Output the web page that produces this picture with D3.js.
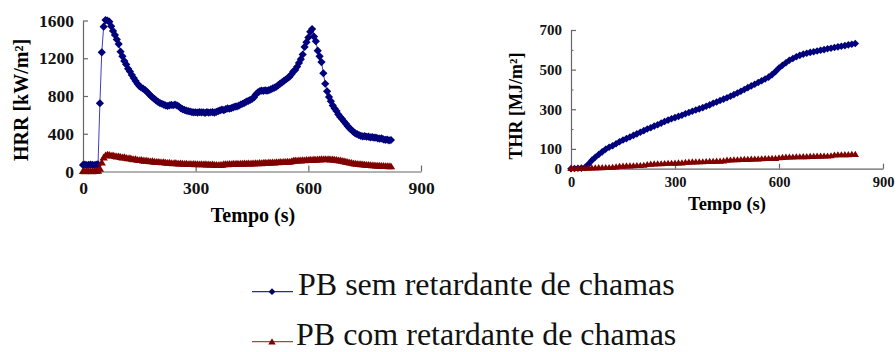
<!DOCTYPE html>
<html>
<head>
<meta charset="utf-8">
<script src="https://cdn.jsdelivr.net/npm/d3@7"></script>
<style>
  body { margin: 0; background: #fff; }
  svg { display: block; }
  text { font-family: "Liberation Serif", "Times New Roman", serif; }
</style>
</head>
<body>
<script>
// Cone calorimeter results: heat release rate (HRR) and total heat release (THR)
const seriesNames = ["PB sem retardante de chamas", "PB com retardante de chamas"];

// HRR [kW/m²], sampled every 5 s from 0 to 820 s
const hrrStep = 5;
const hrrSemRetardante = [
  70, 72, 68, 70, 72, 70, 68, 72, 75, 723,
  1263, 1535, 1605, 1600, 1588, 1540, 1490, 1447, 1400, 1350,
  1270, 1220, 1170, 1135, 1090, 1060, 1023, 990, 960, 930,
  905, 890, 878, 864, 846, 825, 803, 785, 770, 752,
  738, 725, 718, 708, 700, 694, 700, 705, 702, 708,
  700, 690, 672, 660, 652, 645, 640, 636, 630, 627,
  628, 624, 630, 626, 628, 622, 630, 624, 628, 630,
  624, 632, 640, 648, 655, 650, 660, 668, 665, 672,
  680, 688, 690, 698, 710, 718, 728, 740, 748, 758,
  768, 785, 815, 835, 850, 858, 855, 860, 856, 862,
  870, 880, 888, 899, 915, 932, 945, 960, 975, 990,
  1005, 1030, 1060, 1076, 1110, 1150, 1190, 1240, 1320, 1370,
  1420, 1480, 1510, 1430, 1380, 1280, 1220, 1160, 1041, 930,
  850, 790, 745, 700, 668, 640, 605, 578, 556, 530,
  505, 480, 458, 440, 420, 405, 395, 385, 378, 372,
  375, 368, 370, 362, 365, 358, 360, 352, 348, 350,
  340, 336, 338, 330, 334
];
const hrrComRetardante = [
  6, 4, 8, 5, 7, 4, 6, 9, 8, 30,
  95, 150, 172, 180, 176, 170, 172, 165, 160, 162,
  155, 150, 152, 145, 140, 142, 135, 130, 132, 125,
  122, 124, 118, 115, 117, 112, 108, 110, 105, 102,
  104, 100, 98, 100, 95, 92, 94, 90, 88, 91,
  87, 85, 88, 84, 82, 85, 80, 82, 79, 81,
  78, 80, 77, 79, 76, 78, 75, 77, 74, 76,
  72, 70, 68, 70, 72, 78, 80, 78, 82, 80,
  83, 81, 84, 82, 85, 83, 86, 84, 87, 85,
  88, 86, 90, 88, 91, 89, 92, 95, 93, 97,
  95, 98, 96, 100, 98, 102, 100, 104, 102, 106,
  104, 108, 115, 118, 116, 120, 118, 122, 120, 124,
  122, 126, 124, 128, 126, 130, 128, 132, 130, 133,
  130, 132, 128, 130, 126, 124, 120, 118, 114, 110,
  105, 100, 96, 92, 88, 85, 82, 80, 78, 76,
  74, 72, 70, 68, 67, 66, 64, 63, 62, 61,
  60, 59, 58, 57, 56
];

// THR [MJ/m²], sampled every 10 s from 0 to 820 s
const thrStep = 10;
const thrSemRetardante = [
  0, 1, 2, 3, 6, 22, 42, 58, 72, 85,
  98, 108, 116, 126, 136, 145, 152, 160, 168, 176,
  184, 192, 200, 207, 215, 222, 230, 238, 245, 252,
  258, 264, 270, 277, 284, 290, 296, 302, 308, 315,
  322, 330, 337, 344, 351, 358, 366, 374, 382, 391,
  400, 409, 418, 426, 435, 444, 453, 462, 475, 490,
  508, 522, 535, 547, 556, 565, 572, 578, 583, 587,
  590, 594, 598, 601, 605, 608, 612, 615, 618, 621,
  625, 628, 632
];
const thrComRetardante = [
  2, 2, 3, 3, 4, 4, 5, 5, 6, 6,
  7, 7, 8, 10, 13, 14, 15, 15, 16, 17,
  17, 18, 22, 24, 25, 26, 26, 27, 28, 28,
  29, 30, 30, 33, 34, 35, 35, 36, 36, 37,
  38, 38, 39, 39, 40, 44, 45, 46, 46, 47,
  48, 48, 49, 50, 50, 51, 52, 52, 53, 53,
  56, 58, 59, 60, 60, 61, 61, 62, 62, 63,
  63, 64, 64, 65, 65, 66, 70, 71, 71, 72,
  72, 73, 73
];

// Axis ticks
const timeTicks = [0, 300, 600, 900];
const hrrTicks = [0, 400, 800, 1200, 1600];
const thrTicks = [0, 100, 300, 500, 700];
const thrMinorTicks = [200, 400, 600];

const hrrTimes = hrrSemRetardante.map((_, i) => i * hrrStep);
const thrTimes = thrSemRetardante.map((_, i) => i * thrStep);

const svg = d3.select("body").append("svg").attr("width", 896).attr("height", 352);

const AXIS = "#666";
const BLUE = "#00007c", BLUE_LINE = "#4040b8";
const RED = "#800000", RED_LINE = "#8b1010";
const diamond = r => `M0,${-r}L${r},0L0,${r}L${-r},0Z`;
const triangle = s => `M0,${-s}L${s * 1.1},${s * 0.8}L${-s * 1.1},${s * 0.8}Z`;

const styles = [
  { line: BLUE_LINE, fill: BLUE, marker: diamond(4.1), legendMarker: diamond(3.4), legendLine: "#2a2a9c" },
  { line: RED_LINE, fill: RED, marker: triangle(3.8), legendMarker: triangle(3.4), legendLine: "#a04848" }
];
const thrMarkers = [diamond(3.8), triangle(3.4)];

function styleAxis(g, fontSize) {
  g.select(".domain").attr("stroke", AXIS).attr("stroke-width", 1.2);
  g.selectAll(".tick line").attr("stroke", AXIS).attr("stroke-width", 1.2);
  g.selectAll(".tick text")
    .attr("fill", "#111")
    .style("font-size", fontSize + "px")
    .style("font-weight", "bold")
    .style("font-family", '"Liberation Serif", "Times New Roman", serif');
}

function drawSeries(g, xs, ys, times, values, st, marker) {
  g.append("path")
    .attr("d", d3.line()(values.map((v, i) => [xs(times[i]), ys(v)])))
    .attr("fill", "none")
    .attr("stroke", st.line)
    .attr("stroke-width", 1);
  g.selectAll(null)
    .data(values)
    .join("path")
    .attr("transform", (v, i) => `translate(${xs(times[i])},${ys(v)})`)
    .attr("d", marker)
    .attr("fill", st.fill);
}

// ---------- HRR panel ----------
const hrrX = d3.scaleLinear().domain([0, 900]).range([83, 421]);
const hrrY = d3.scaleLinear().domain([0, 1600]).range([171.5, 20.5]);

svg.append("g")
  .attr("transform", "translate(0,171.5)")
  .call(d3.axisBottom(hrrX).tickValues(timeTicks).tickFormat(d3.format("d"))
    .tickSizeInner(-6).tickSizeOuter(0).tickPadding(10))
  .call(g => styleAxis(g, 17.5));

svg.append("g")
  .attr("transform", "translate(83,0)")
  .call(d3.axisLeft(hrrY).tickValues(hrrTicks).tickFormat(d3.format("d"))
    .tickSizeInner(-5).tickSizeOuter(0).tickPadding(9))
  .call(g => styleAxis(g, 17.5));

const hrrPlot = svg.append("g");
drawSeries(hrrPlot, hrrX, hrrY, hrrTimes, hrrSemRetardante, styles[0], styles[0].marker);
drawSeries(hrrPlot, hrrX, hrrY, hrrTimes, hrrComRetardante, styles[1], styles[1].marker);

svg.append("text")
  .attr("transform", "translate(21,100) rotate(-90)")
  .attr("text-anchor", "middle")
  .attr("dominant-baseline", "central")
  .style("font-size", "20px").style("font-weight", "bold")
  .text("HRR [kW/m²]");

svg.append("text")
  .attr("x", 253).attr("y", 221.5)
  .attr("text-anchor", "middle")
  .style("font-size", "20px").style("font-weight", "bold")
  .text("Tempo (s)");

// ---------- THR panel ----------
const thrX = d3.scaleLinear().domain([0, 900]).range([571, 883]);
const thrY = d3.scaleLinear().domain([0, 700]).range([168.7, 30]);

svg.append("g")
  .attr("transform", "translate(0,168.7)")
  .call(d3.axisBottom(thrX).tickValues(timeTicks).tickFormat(d3.format("d"))
    .tickSizeInner(-5).tickSizeOuter(0).tickPadding(8))
  .call(g => styleAxis(g, 14.5));

svg.append("g")
  .attr("transform", "translate(571,0)")
  .call(d3.axisLeft(thrY).tickValues(thrTicks).tickFormat(d3.format("d"))
    .tickSizeInner(-5).tickSizeOuter(0).tickPadding(9))
  .call(g => styleAxis(g, 15));

svg.append("g")
  .attr("transform", "translate(571,0)")
  .call(d3.axisLeft(thrY).tickValues(thrMinorTicks).tickFormat("")
    .tickSizeInner(-2.5).tickSizeOuter(0))
  .call(g => { g.select(".domain").remove(); g.selectAll(".tick line").attr("stroke", AXIS); });

const thrPlot = svg.append("g");
drawSeries(thrPlot, thrX, thrY, thrTimes, thrSemRetardante, styles[0], thrMarkers[0]);
drawSeries(thrPlot, thrX, thrY, thrTimes, thrComRetardante, styles[1], thrMarkers[1]);

svg.append("text")
  .attr("transform", "translate(515.5,106) rotate(-90)")
  .attr("text-anchor", "middle")
  .attr("dominant-baseline", "central")
  .style("font-size", "18px").style("font-weight", "bold")
  .text("THR [MJ/m²]");

svg.append("text")
  .attr("x", 727).attr("y", 210)
  .attr("text-anchor", "middle")
  .style("font-size", "18.5px").style("font-weight", "bold")
  .text("Tempo (s)");

// ---------- Legend ----------
const legend = svg.append("g")
  .selectAll("g")
  .data(seriesNames)
  .join("g")
  .attr("transform", (d, i) => `translate(252,${291.7 + i * 50})`);

legend.append("line")
  .attr("x1", 0).attr("x2", 41).attr("y1", 0).attr("y2", 0)
  .attr("stroke", (d, i) => styles[i].legendLine)
  .attr("stroke-width", 1.3);

legend.append("path")
  .attr("transform", "translate(20,0)")
  .attr("d", (d, i) => styles[i].legendMarker)
  .attr("fill", (d, i) => styles[i].fill);

legend.append("text")
  .attr("x", (d, i) => i === 0 ? 46 : 44)
  .attr("y", 3.5)
  .style("font-size", "32px")
  .attr("fill", "#111")
  .text(d => d);
</script>
</body>
</html>
